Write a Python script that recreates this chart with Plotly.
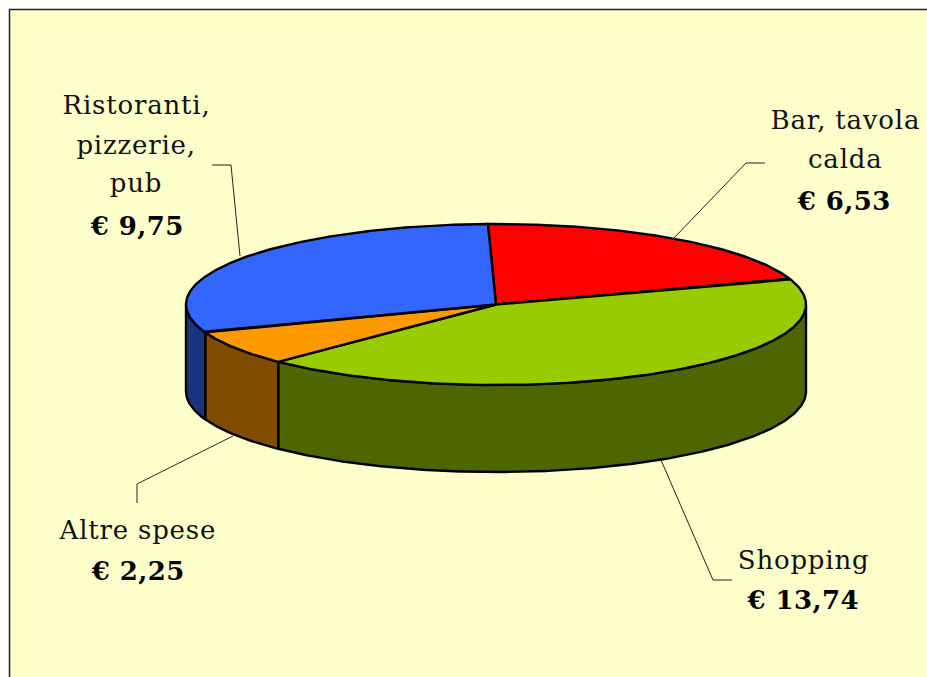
import numpy as np
import plotly.graph_objects as go

# --- data ---
categories = ["Bar, tavola calda", "Shopping", "Altre spese", "Ristoranti, pizzerie, pub"]
values = [6.53, 13.74, 2.25, 9.75]
label_lines = [["Bar, tavola", "calda"], ["Shopping"], ["Altre spese"], ["Ristoranti,", "pizzerie,", "pub"]]

# --- styles ---
top_colors = ["#FF0000", "#99CC00", "#FF9900", "#3366FF"]
side_colors = ["#800000", "#4D6600", "#804D00", "#1A3380"]
BG = "#FFFFCC"

# --- pie projection (page pixels) ---
CX, CY, RX, RY, DEPTH = 496.0, 304.5, 310.0, 80.5, 87.0
START = -1.5  # degrees clockwise from the top
EDGE = 2.4


def ex(a):
    return CX + RX * np.sin(np.radians(a))


def ey(a):
    return CY - RY * np.cos(np.radians(a))


shares = np.array(values) / sum(values) * 360.0
ends = START + np.cumsum(shares)
starts = ends - shares

fig = go.Figure()

# Visible walls: the front half of the rim (90..270 degrees)
for a0, a1, col in zip(starts, ends, side_colors):
    lo, hi = max(a0, 90.0), min(a1, 270.0)
    if hi <= lo:
        continue
    arc = np.linspace(lo, hi, int((hi - lo) * 2) + 2)
    xs = np.r_[ex(arc), ex(arc)[::-1], ex(arc[0])]
    ys = np.r_[ey(arc), ey(arc)[::-1] + DEPTH, ey(arc[0])]
    fig.add_trace(go.Scatter(x=xs, y=ys, mode="lines", fill="toself", fillcolor=col,
                             line=dict(color="black", width=EDGE), hoverinfo="skip", showlegend=False))

# Top face slices
for a0, a1, col in zip(starts, ends, top_colors):
    arc = np.linspace(a0, a1, int((a1 - a0) * 2) + 2)
    xs = np.r_[CX, ex(arc), CX]
    ys = np.r_[CY, ey(arc), CY]
    fig.add_trace(go.Scatter(x=xs, y=ys, mode="lines", fill="toself", fillcolor=col,
                             line=dict(color="black", width=EDGE), hoverinfo="skip", showlegend=False))

# Leader lines
leaders = [
    ([765, 746, 674], [163, 163, 238]),
    ([661, 713, 732], [460, 580, 580]),
    ([233, 137, 137], [436, 484, 503]),
    ([212, 231, 240], [165, 165, 256]),
]
for lx, ly in leaders:
    fig.add_trace(go.Scatter(x=lx, y=ly, mode="lines", line=dict(color="#222222", width=1),
                             hoverinfo="skip", showlegend=False))

# Label placement
name_y = [[120, 159], [560], [530], [105, 145, 183]]
value_y = [201, 600, 571, 226]
label_x = [845, 803, 137, 136]
SERIF = "DejaVu Serif"

annotations = []
for lines, ys, vy, x, v in zip(label_lines, name_y, value_y, label_x, values):
    for t, y in zip(lines, ys):
        annotations.append(dict(x=x, y=y, text=t, showarrow=False, xanchor="center", yanchor="middle",
                                font=dict(family=SERIF, size=26, color="#111111")))
    annotations.append(dict(x=x - (2 if x == 845 else 0), y=vy,
                            text="<b>€ " + f"{v:.2f}".replace(".", ",") + "</b>",
                            showarrow=False, xanchor="center", yanchor="middle",
                            font=dict(family=SERIF, size=26, color="black")))

fig.update_layout(
    width=927, height=677, autosize=False,
    margin=dict(l=0, r=0, t=0, b=0),
    paper_bgcolor="white", plot_bgcolor="white",
    xaxis=dict(range=[0, 927], visible=False, fixedrange=True),
    yaxis=dict(range=[677, 0], visible=False, fixedrange=True),
    shapes=[dict(type="rect", xref="x", yref="y", x0=9.5, y0=9.5, x1=1100, y1=1100,
                 fillcolor=BG, line=dict(color="#222222", width=1.5), layer="below")],
    annotations=annotations,
    showlegend=False,
)

post = """
document.body.style.margin='0';document.body.style.overflow='hidden';
document.querySelectorAll('.annotation-text').forEach(function(t){
  t.style.letterSpacing = t.querySelector('tspan') ? '0.4px' : '0.8px';
});
"""
fig.write_html("out.html", config={"displayModeBar": False}, post_script=post)
